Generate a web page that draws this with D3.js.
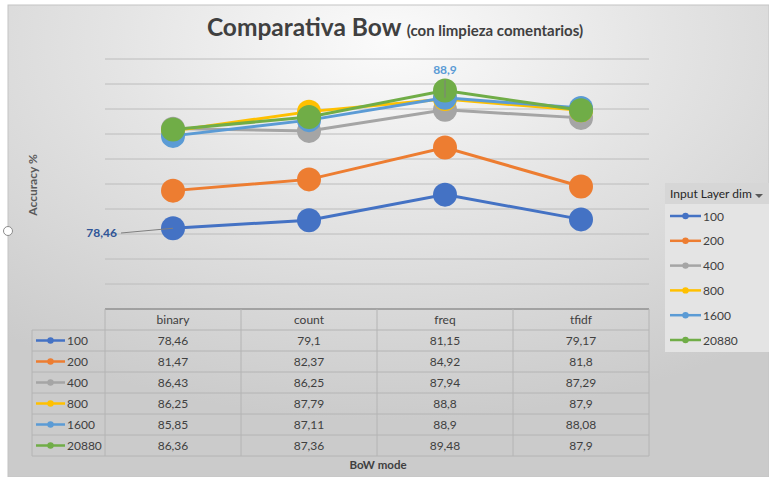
<!DOCTYPE html>
<html>
<head>
<meta charset="utf-8">
<script src="https://cdn.jsdelivr.net/npm/d3@7"></script>
<style>
  html, body { margin: 0; padding: 0; background: #ffffff; }
  svg { display: block; font-family: Lato, "Open Sans", sans-serif; }
</style>
</head>
<body>
<svg id="chart" width="769" height="477"></svg>
<script>
// BoW encodings compared
const categories = ["binary", "count", "freq", "tfidf"];
// Input layer sizes
const seriesNames = ["100", "200", "400", "800", "1600", "20880"];
const seriesColors = ["#4472C4", "#ED7D31", "#A5A5A5", "#FFC000", "#5B9BD5", "#70AD47"];
// Accuracy % per series, one value per category
const acc100   = [78.46, 79.1, 81.15, 79.17];
const acc200   = [81.47, 82.37, 84.92, 81.8];
const acc400   = [86.43, 86.25, 87.94, 87.29];
const acc800   = [86.25, 87.79, 88.8, 87.9];
const acc1600  = [85.85, 87.11, 88.9, 88.08];
const acc20880 = [86.36, 87.36, 89.48, 87.9];
const yTicks = [72, 74, 76, 78, 80, 82, 84, 86, 88, 90, 92];

const seriesValues = [acc100, acc200, acc400, acc800, acc1600, acc20880];
const series = seriesNames.map((name, i) => ({ name, color: seriesColors[i], values: seriesValues[i] }));

const fmt = v => String(v).replace(".", ",");

const svg = d3.select("#chart");
const defs = svg.append("defs");

// chart area background
const grad = defs.append("radialGradient").attr("id", "bg")
  .attr("cx", "50%").attr("cy", "8%").attr("r", "80%")
  .attr("fx", "50%").attr("fy", "8%");
grad.append("stop").attr("offset", "0%").attr("stop-color", "#fbfbfb");
grad.append("stop").attr("offset", "45%").attr("stop-color", "#e4e4e4");
grad.append("stop").attr("offset", "100%").attr("stop-color", "#cbcbcb");

svg.append("rect").attr("x", 8).attr("y", 5).attr("width", 761).attr("height", 472)
  .attr("fill", "url(#bg)").attr("stroke", "#c4c4c4").attr("stroke-width", 1);

// title
const title = svg.append("text").attr("x", 395).attr("y", 36).attr("text-anchor", "middle")
  .attr("fill", "#404040").attr("font-weight", "bold");
title.append("tspan").attr("font-size", 24.5).text("Comparativa Bow ");
title.append("tspan").attr("font-size", 15).text("(con limpieza comentarios)");

// scales
const x = d3.scaleBand().domain(categories).range([105, 649]);
const y = d3.scaleLinear().domain([72, 92]).range([309, 59]);
const cx = c => x(c) + x.bandwidth() / 2;

// horizontal gridlines
svg.append("g").selectAll("line").data(yTicks.slice(1)).join("line")
  .attr("x1", 105).attr("x2", 649)
  .attr("y1", d => y(d)).attr("y2", d => y(d))
  .attr("stroke", "#bcbcbc").attr("stroke-width", 1);

// y axis title
svg.append("text").attr("transform", `translate(37,185) rotate(-90)`)
  .attr("text-anchor", "middle").attr("font-size", 12).attr("font-weight", "bold")
  .attr("fill", "#595959").text("Accuracy %");

// lines and markers
const line = d3.line().x((d, i) => cx(categories[i])).y(d => y(d));
const gSeries = svg.append("g").selectAll("g").data(series).join("g");
gSeries.append("path").attr("d", d => line(d.values))
  .attr("fill", "none").attr("stroke", d => d.color).attr("stroke-width", 3);
gSeries.selectAll("circle").data(d => d.values.map((v, i) => ({ v, c: categories[i], color: d.color })))
  .join("circle")
  .attr("cx", d => cx(d.c)).attr("cy", d => y(d.v)).attr("r", 12)
  .attr("fill", d => d.color);

// data labels with leader lines
const lab1 = { s: series[0], i: 0 };
const p1 = [cx(categories[lab1.i]), y(lab1.s.values[lab1.i])];
svg.append("line").attr("x1", 121).attr("y1", 233).attr("x2", p1[0]).attr("y2", p1[1])
  .attr("stroke", "#7f7f7f").attr("stroke-width", 1);
svg.append("text").attr("x", 117).attr("y", 237).attr("text-anchor", "end")
  .attr("font-size", 12).attr("font-weight", "bold").attr("fill", "#2F5597")
  .text(fmt(lab1.s.values[lab1.i]));

const lab2 = { s: series[4], i: 2 };
const p2 = [cx(categories[lab2.i]), y(lab2.s.values[lab2.i])];
svg.append("line").attr("x1", p2[0]).attr("y1", 80).attr("x2", p2[0]).attr("y2", p2[1])
  .attr("stroke", "#7f7f7f").attr("stroke-width", 1);
svg.append("text").attr("x", p2[0]).attr("y", 74).attr("text-anchor", "middle")
  .attr("font-size", 12).attr("font-weight", "bold").attr("fill", "#5B9BD5")
  .text(fmt(lab2.s.values[lab2.i]));

// data table
const rowH = 21, tableTop = 309, headerBottom = 330;
const tableBottom = headerBottom + rowH * series.length;
const tg = svg.append("g").attr("font-size", 12).attr("fill", "#404040");
const gridC = "#b4b4b4";

// header row
tg.append("line").attr("x1", 105).attr("x2", 649).attr("y1", tableTop).attr("y2", tableTop)
  .attr("stroke", "#6e6e6e").attr("stroke-width", 1.2);
categories.forEach(c => {
  tg.append("text").attr("x", cx(c)).attr("y", tableTop + 15).attr("text-anchor", "middle")
    .attr("fill", "#404040").text(c);
});
// vertical rules
[105, ...categories.map(c => x(c) + x.bandwidth())].forEach(xx => {
  tg.append("line").attr("x1", xx).attr("x2", xx).attr("y1", tableTop).attr("y2", tableBottom)
    .attr("stroke", gridC);
});
tg.append("line").attr("x1", 32).attr("x2", 32).attr("y1", headerBottom).attr("y2", tableBottom)
  .attr("stroke", gridC);
// horizontal rules
d3.range(series.length + 1).forEach(k => {
  const yy = headerBottom + k * rowH;
  tg.append("line").attr("x1", 32).attr("x2", 649).attr("y1", yy).attr("y2", yy).attr("stroke", gridC);
});
// rows
series.forEach((s, k) => {
  const yy = headerBottom + k * rowH;
  tg.append("line").attr("x1", 36).attr("x2", 65).attr("y1", yy + 10.5).attr("y2", yy + 10.5)
    .attr("stroke", s.color).attr("stroke-width", 2.5);
  tg.append("circle").attr("cx", 50.5).attr("cy", yy + 10.5).attr("r", 3.2).attr("fill", s.color);
  tg.append("text").attr("x", 67).attr("y", yy + 15).attr("fill", "#404040").text(s.name);
  s.values.forEach((v, i) => {
    tg.append("text").attr("x", cx(categories[i])).attr("y", yy + 15).attr("text-anchor", "middle")
      .attr("fill", "#404040").text(fmt(v));
  });
});

// x axis title
svg.append("text").attr("x", 378).attr("y", 469).attr("text-anchor", "middle")
  .attr("font-size", 11.5).attr("font-weight", "bold").attr("fill", "#404040").text("BoW mode");

// legend
const lg = svg.append("g");
lg.append("rect").attr("x", 665).attr("y", 183).attr("width", 104).attr("height", 169).attr("fill", "#e4e4e4");
lg.append("rect").attr("x", 665).attr("y", 183).attr("width", 104).attr("height", 21).attr("fill", "#d6d6d6");
lg.append("text").attr("x", 670).attr("y", 198).attr("font-size", 12).attr("fill", "#262626").text("Input Layer dim");
lg.append("path").attr("d", "M755,194 L763,194 L759,198 Z").attr("fill", "#595959");
series.forEach((s, k) => {
  const yy = 216 + k * 24.8;
  lg.append("line").attr("x1", 670).attr("x2", 701).attr("y1", yy).attr("y2", yy)
    .attr("stroke", s.color).attr("stroke-width", 2.5);
  lg.append("circle").attr("cx", 685.5).attr("cy", yy).attr("r", 3.2).attr("fill", s.color);
  lg.append("text").attr("x", 703).attr("y", yy + 4.5).attr("font-size", 12).attr("fill", "#404040").text(s.name);
});

// selection handle on the chart frame
svg.append("circle").attr("cx", 8).attr("cy", 231).attr("r", 4.5)
  .attr("fill", "#ffffff").attr("stroke", "#8c8c8c").attr("stroke-width", 1);
</script>
</body>
</html>
